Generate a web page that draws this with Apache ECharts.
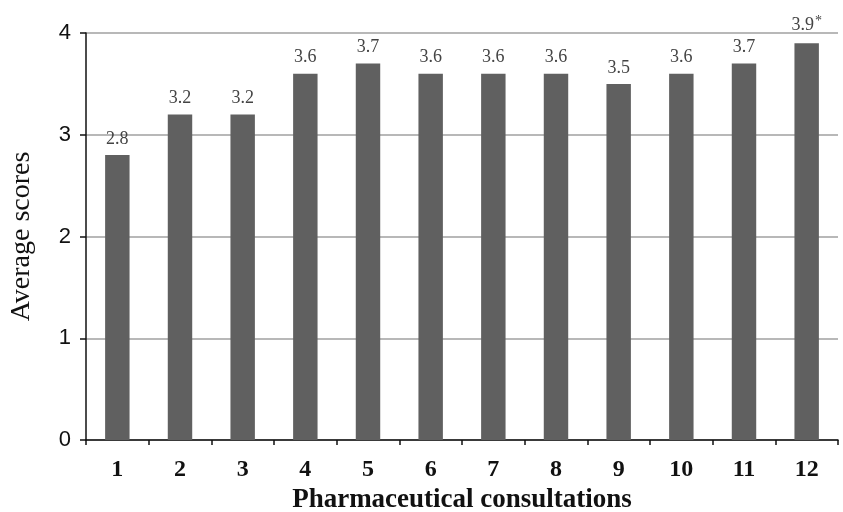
<!DOCTYPE html>
<html>
<head>
<meta charset="utf-8">
<script src="https://cdn.jsdelivr.net/npm/echarts@6/dist/echarts.min.js"></script>
<style>html,body{margin:0;padding:0;background:#fff}#c{width:843px;height:512px}</style>
</head>
<body>
<div id="c"></div>
<script>
var categories = ['1','2','3','4','5','6','7','8','9','10','11','12'];
var scores = [2.8, 3.2, 3.2, 3.6, 3.7, 3.6, 3.6, 3.6, 3.5, 3.6, 3.7, 3.9];
var significant = [false,false,false,false,false,false,false,false,false,false,false,true];
var yTicks = [0, 1, 2, 3, 4];

var chart = echarts.init(document.getElementById('c'));
chart.setOption({
  animation: false,
  backgroundColor: '#fff',
  grid: {left: 86, right: 5, top: 33, bottom: 72, outerBoundsMode: 'none', containLabel: false},
  xAxis: {
    type: 'category',
    data: categories,
    name: 'Pharmaceutical consultations',
    nameLocation: 'middle',
    nameGap: 45,
    nameTextStyle: {fontFamily: 'Liberation Serif', fontWeight: 'bold', fontSize: 27, color: '#111'},
    axisLine: {lineStyle: {color: '#111', width: 1.5}},
    axisTick: {show: true, length: 5, lineStyle: {color: '#111', width: 1.5}},
    axisLabel: {fontFamily: 'Liberation Serif', fontWeight: 'bold', fontSize: 24, color: '#111', margin: 18}
  },
  yAxis: {
    type: 'value',
    min: 0, max: 4, interval: 1,
    name: 'Average scores',
    nameLocation: 'middle',
    nameGap: 50,
    nameTextStyle: {fontFamily: 'Liberation Serif', fontSize: 28, color: '#111'},
    axisLine: {show: true, lineStyle: {color: '#111', width: 1.5}},
    axisTick: {show: true, length: 6, lineStyle: {color: '#111', width: 1.5}},
    axisLabel: {fontFamily: 'Liberation Sans', fontSize: 22, color: '#111', margin: 15,
      formatter: function (v) { return yTicks.indexOf(v) >= 0 ? String(v) : ''; }},
    splitLine: {lineStyle: {color: '#a0a0a0', width: 1.5}}
  },
  series: [{
    type: 'bar',
    data: scores.map(function (v, i) {
      return {value: v, label: {formatter: significant[i] ? '{v|' + v.toFixed(1) + '}{s|*}' : '{v|' + v.toFixed(1) + '}'}};
    }),
    barWidth: '39%',
    itemStyle: {color: '#606060'},
    label: {
      show: true, position: 'top', distance: 7,
      rich: {
        v: {fontFamily: 'Liberation Serif', fontSize: 18, color: '#444'},
        s: {fontFamily: 'Liberation Serif', fontSize: 14, color: '#444', verticalAlign: 'top', padding: [0,0,8,1]}
      }
    }
  }]
});
</script>
</body>
</html>
